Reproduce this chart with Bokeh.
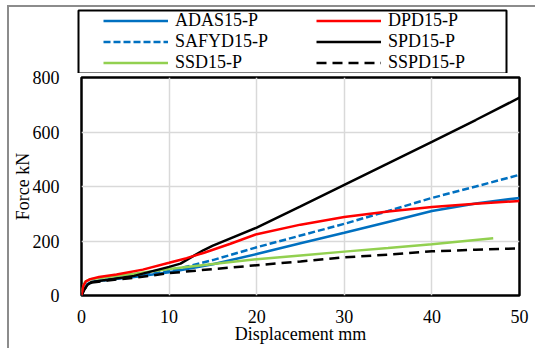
from bokeh.plotting import figure
from bokeh.layouts import column, row
from bokeh.models import Range1d, FixedTicker, Legend, LegendItem
from bokeh.embed import file_html
from bokeh.resources import INLINE

# ---- data ----
adas_x = [0, 0.3, 0.7, 1.2, 3, 6, 10, 15, 20, 25, 30, 35, 40, 45, 50]
adas_y = [0, 25, 42, 50, 58, 68, 85, 115, 152, 192, 230, 270, 310, 338, 358]

safyd_x = [0, 0.3, 0.7, 1.2, 3, 6, 10, 15, 20, 25, 30, 35, 40, 45, 50]
safyd_y = [0, 25, 42, 50, 58, 70, 90, 130, 177, 220, 263, 310, 358, 400, 443]

dpd_x = [0, 0.2, 0.5, 1, 2, 4, 7, 10, 12, 14, 17, 20, 25, 30, 35, 40, 45, 50]
dpd_y = [0, 35, 52, 60, 68, 77, 95, 120, 137, 157, 190, 225, 260, 288, 308, 325, 337, 347]

spd_x = [0, 0.3, 0.7, 1.2, 3, 6, 10, 11.3, 12.5, 13.9, 15, 20, 25, 30, 35, 40, 45, 50]
spd_y = [0, 20, 40, 50, 58, 72, 105, 117, 140, 166, 183, 249, 327, 406, 485, 564, 644, 726]

ssd_x = [0, 0.1, 0.4, 1, 3, 6, 10, 15, 20, 25, 30, 35, 40, 47]
ssd_y = [0, 25, 50, 60, 68, 80, 97, 116, 133, 147, 161, 174, 188, 210]

sspd_x = [0, 0.3, 0.7, 1.2, 3, 6, 10, 15, 20, 25, 30, 35, 40, 45, 50]
sspd_y = [0, 22, 40, 48, 55, 65, 82, 97, 111, 125, 140, 150, 162, 168, 173]

series_names = ["ADAS15-P", "SAFYD15-P", "SSD15-P", "DPD15-P", "SPD15-P", "SSPD15-P"]

x_ticks = [0, 10, 20, 30, 40, 50]
y_ticks = [0, 200, 400, 600, 800]

FONT = "Liberation Serif"
BLUE, RED, GREEN = "#0070C0", "#FF0000", "#92D050"
GRAY = "2px solid #8c8c8c"
styles = {
    "ADAS15-P": dict(line_color=BLUE),
    "SAFYD15-P": dict(line_color=BLUE, line_dash="7 3"),
    "SSD15-P": dict(line_color=GREEN),
    "DPD15-P": dict(line_color=RED),
    "SPD15-P": dict(line_color="black"),
    "SSPD15-P": dict(line_color="black", line_dash="10 6"),
}
data = {
    "ADAS15-P": (adas_x, adas_y),
    "SAFYD15-P": (safyd_x, safyd_y),
    "SSD15-P": (ssd_x, ssd_y),
    "DPD15-P": (dpd_x, dpd_y),
    "SPD15-P": (spd_x, spd_y),
    "SSPD15-P": (sspd_x, sspd_y),
}
LW = 2.5
W = 528

# ---------- legend panel (its view range lies outside the data, so only the legend shows) ----------
lf = figure(width=W, height=68, output_backend="svg", toolbar_location=None,
            x_range=Range1d(-2, -1), y_range=Range1d(-2, -1),
            x_axis_type=None, y_axis_type=None,
            min_border_left=69, min_border_right=31, min_border_top=3, min_border_bottom=2,
            styles={"border-left": GRAY, "border-top": GRAY})
lf.xgrid.visible = False
lf.ygrid.visible = False
lf.outline_line_color = "black"
lf.outline_line_width = 2
lf.border_fill_color = "white"

items = []
for name in series_names:
    xs, ys = data[name]
    r = lf.line(xs, ys, line_width=LW, **styles[name])
    items.append(LegendItem(label=name, renderers=[r]))

legend = Legend(items=items, location=(25, 0), orientation="vertical", nrows=3)
legend.label_text_font = FONT
legend.label_text_font_size = "18px"
legend.label_text_color = "black"
legend.glyph_width = 65
legend.glyph_height = 21
legend.label_height = 21
legend.label_width = 141
legend.label_standoff = 7
legend.padding = 0
legend.spacing = 0
legend.margin = 0
legend.border_line_alpha = 0
legend.background_fill_alpha = 0
lf.add_layout(legend)

# ---------- main plot ----------
p = figure(width=W, height=285, output_backend="svg", toolbar_location=None,
           x_range=Range1d(0, 50), y_range=Range1d(0, 800),
           min_border_left=72, min_border_right=18, min_border_top=14, min_border_bottom=53,
           margin=(-10, 0, 0, 7),
           styles={"border-left": GRAY})

p.outline_line_color = "black"
p.outline_line_width = 2.5
p.background_fill_color = "white"
p.border_fill_alpha = 0

for axes in (p.xaxis, p.yaxis):
    axes.axis_line_color = None
    axes.major_tick_line_color = None
    axes.minor_tick_line_color = None
    axes.major_label_text_font = FONT
    axes.major_label_text_font_size = "18px"
    axes.major_label_text_color = "black"
    axes.axis_label_text_font = FONT
    axes.axis_label_text_font_size = "18px"
    axes.axis_label_text_font_style = "normal"
    axes.axis_label_text_color = "black"

p.xaxis.ticker = FixedTicker(ticks=x_ticks)
p.yaxis.ticker = FixedTicker(ticks=y_ticks)
p.xaxis.axis_label = "Displacement mm"
p.yaxis.axis_label = "Force kN"
p.xaxis.major_label_standoff = 8
p.xaxis.axis_label_standoff = -2
p.yaxis.major_label_standoff = 16
p.yaxis.axis_label_standoff = -3

p.xgrid.grid_line_color = "#d9d9d9"
p.ygrid.grid_line_color = "#d9d9d9"
p.xgrid.grid_line_width = 1.5
p.ygrid.grid_line_width = 1.5

draw_order = ["ADAS15-P", "SAFYD15-P", "SSD15-P", "SSPD15-P", "SPD15-P", "DPD15-P"]
for name in draw_order:
    xs, ys = data[name]
    p.line(xs, ys, line_width=LW, **styles[name])

# wrap the legend panel so its borders are not aligned with the main plot's
top = row(lf, margin=(5, 0, 0, 7))
layout = column(top, p, spacing=0)

open("out.html", "w").write(file_html(layout, INLINE))
